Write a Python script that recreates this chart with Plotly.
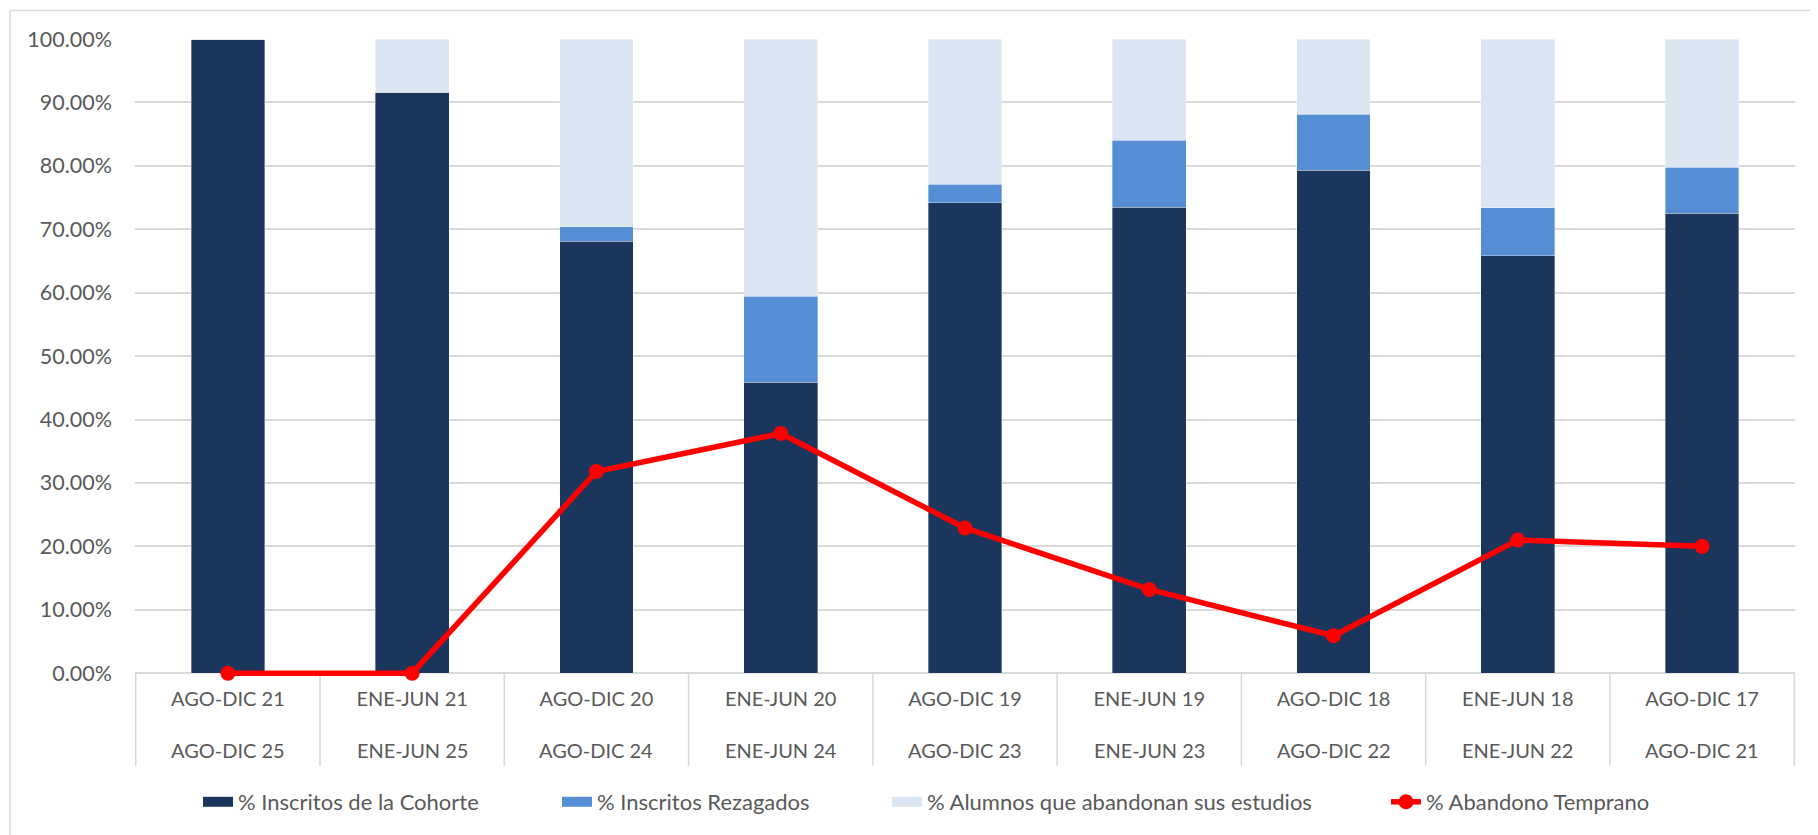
import plotly.graph_objects as go

# ---- data ----
periodo_inicio = ["AGO-DIC 21", "ENE-JUN 21", "AGO-DIC 20", "ENE-JUN 20", "AGO-DIC 19",
                  "ENE-JUN 19", "AGO-DIC 18", "ENE-JUN 18", "AGO-DIC 17"]
periodo_fin = ["AGO-DIC 25", "ENE-JUN 25", "AGO-DIC 24", "ENE-JUN 24", "AGO-DIC 23",
               "ENE-JUN 23", "AGO-DIC 22", "ENE-JUN 22", "AGO-DIC 21"]
inscritos_cohorte = [1.000, 0.916, 0.681, 0.459, 0.742, 0.735, 0.793, 0.658, 0.725]
inscritos_rezagados = [0.000, 0.000, 0.023, 0.135, 0.029, 0.105, 0.088, 0.076, 0.073]
alumnos_abandonan = [0.000, 0.084, 0.296, 0.406, 0.229, 0.160, 0.119, 0.266, 0.202]
abandono_temprano = [0.000, 0.000, 0.318, 0.378, 0.229, 0.132, 0.059, 0.210, 0.200]

names = ["% Inscritos de la Cohorte", "% Inscritos Rezagados",
         "% Alumnos que abandonan sus estudios", "% Abandono Temprano"]
colors = ["#1a365d", "#558ed5", "#dce6f2", "#ff0000"]

OFF = 8  # page body margin
W, H = 1810, 827
YMIN = -0.006
ML, MR, MT, MB = 127, 23, 31, 158
PW, PH = W - ML - MR, H - MT - MB

def px_x(p):  # page pixel -> paper x
    return (p - OFF - ML) / PW

def px_y(p):  # page pixel -> paper y
    return (H - MB - (p - OFF)) / PH

fig = go.Figure()
for i, vals in enumerate([inscritos_cohorte, inscritos_rezagados, alumnos_abandonan]):
    lg = "legend" if i == 0 else f"legend{i+1}"
    fig.add_trace(go.Bar(
        x=periodo_inicio, y=vals, name=names[i], marker_color=colors[i],
        marker_line=dict(width=0.6, color="rgba(255,255,255,0.6)"),
        showlegend=False, legend=lg,
    ))
    # legend swatch (wide rectangle like the original)
    fig.add_trace(go.Scatter(
        x=[None], y=[None], mode="lines", name=names[i],
        line=dict(color=colors[i], width=14), legend=lg, hoverinfo="skip",
    ))
fig.add_trace(go.Scatter(
    x=periodo_inicio, y=abandono_temprano, name=names[3], mode="lines+markers",
    line=dict(color=colors[3], width=5.5), marker=dict(size=15, color=colors[3]),
    legend="legend4", cliponaxis=False,
))

FAM = "Lato, 'Open Sans', sans-serif"
font = dict(family=FAM, size=20, color="#595959")
leg_font = dict(family=FAM, size=22, color="#595959")
leg_text_starts = [238, 597, 927, 1426]
legends = {}
for i, ts in enumerate(leg_text_starts):
    key = "legend" if i == 0 else f"legend{i+1}"
    legends[key] = dict(
        x=px_x(ts - 40), xanchor="left", y=px_y(802), yanchor="middle",
        orientation="h", bgcolor="rgba(0,0,0,0)", font=leg_font,
        itemclick=False, tracegroupgap=0, visible=True,
    )

fig.update_layout(
    width=W, height=H, barmode="stack", bargap=0.6, showlegend=True,
    margin=dict(l=ML, r=MR, t=MT, b=MB, pad=0),
    paper_bgcolor="white", plot_bgcolor="white", font=font,
    **legends,
)
fig.update_yaxes(range=[YMIN, 1], tick0=0, dtick=0.1, tickformat=".2%", showgrid=True,
                 gridcolor="#d9d9d9", gridwidth=1.5, zeroline=True,
                 zerolinecolor="#d9d9d9", zerolinewidth=2,
                 showline=False, ticks="", ticklabelstandoff=22,
                 layer="below traces",
                 tickfont=dict(family=FAM, size=21.5, color="#595959"))
fig.update_xaxes(type="category", showline=False, showgrid=False, ticks="",
                 tickfont=font, ticklabelstandoff=8)

# second row of category labels
for cat, lab in zip(periodo_inicio, periodo_fin):
    fig.add_annotation(x=cat, xref="x", y=px_y(750), yref="paper", text=lab,
                       showarrow=False, font=font, xanchor="center", yanchor="middle")
# category dividers
for k in range(len(periodo_inicio) + 1):
    fig.add_shape(type="line", xref="x", yref="paper", x0=k - 0.5, x1=k - 0.5,
                  y0=px_y(673), y1=px_y(766), line=dict(color="#d9d9d9", width=1.5),
                  layer="below")

# chart border
fig.add_shape(type="line", xref="paper", yref="paper", x0=px_x(10), x1=px_x(1830),
              y0=px_y(10.5), y1=px_y(10.5), line=dict(color="#d9d9d9", width=1.5))
fig.add_shape(type="line", xref="paper", yref="paper", x0=px_x(10), x1=px_x(10),
              y0=px_y(10.5), y1=px_y(850), line=dict(color="#d9d9d9", width=1.5))

fig.write_html("out.html")
